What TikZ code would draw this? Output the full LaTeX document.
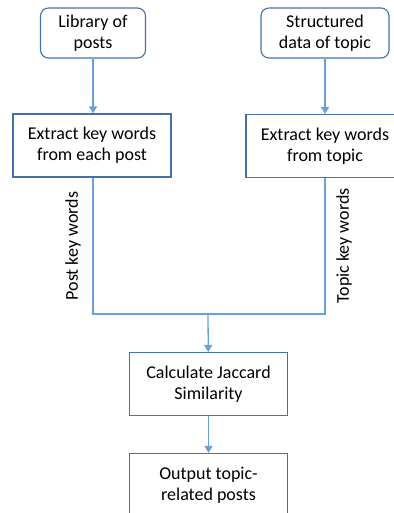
\documentclass[tikz,border=0pt]{standalone}
\usepackage{fontspec}
\setmainfont{Carlito}
\usetikzlibrary{arrows.meta}
\definecolor{boxblue}{RGB}{68,114,168}
\definecolor{lineblue}{RGB}{104,160,218}

\begin{document}
\begin{tikzpicture}[x=1pt,y=1pt,
  every node/.style={font=\fontsize{18}{21}\selectfont},
  rbox/.style={draw=boxblue,line width=1.1pt,rounded corners=8pt,align=center,minimum height=50pt},
  sbox/.style={draw=boxblue,line width=1.1pt,align=center,minimum width=158pt,minimum height=63pt},
  kw/.style={rotate=90},
  flow/.style={draw=lineblue,line width=1.3pt,-{Triangle[width=8pt,length=7pt]}},
  link/.style={draw=lineblue,line width=1.3pt}]
\useasboundingbox (0,0) rectangle (393,-513);
\node[rbox,minimum width=105pt] (lib) at (93,-33) {Library of\\posts};
\node[rbox,minimum width=128pt] (topic) at (325,-33) {Structured\\data of topic};
\node[sbox] (exl) at (92,-145.5) {Extract key words\\from each post};
\node[sbox] (exr) at (325,-146) {Extract key words\\from topic};
\coordinate (join) at (208,-314);
\node[sbox] (calc) at (208.5,-384) {Calculate Jaccard\\Similarity};
\node[sbox] (out) at (208.5,-485) {Output topic-\\related posts};
\node[kw] (pkw) at (73,-246) {Post key words};
\node[kw] (tkw) at (344,-246) {Topic key words};
% connectors
\path[flow] (lib) -- (exl.north-|lib);
\path[flow] (topic) -- (exr.north-|topic);
\path[link] (exl.south-|lib) |- (join) -| (exr.south-|topic);
\path[flow] (join) -- (calc);
\path[flow] (calc) -- (out);
\end{tikzpicture}
\end{document}
